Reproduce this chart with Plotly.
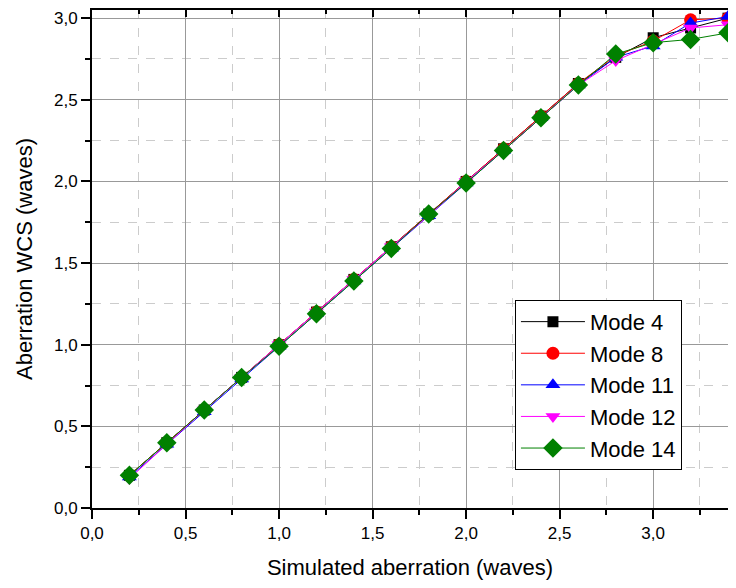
import plotly.graph_objects as go

x_vals = [0.2, 0.4, 0.6, 0.8, 1.0, 1.2, 1.4, 1.6, 1.8, 2.0, 2.2, 2.4, 2.6, 2.8, 3.0, 3.2, 3.4]
mode4 = [0.20, 0.40, 0.60, 0.80, 1.00, 1.20, 1.40, 1.60, 1.80, 2.00, 2.20, 2.40, 2.60, 2.76, 2.88, 2.94, 3.00]
mode8 = [0.20, 0.40, 0.60, 0.80, 1.00, 1.20, 1.40, 1.60, 1.80, 2.00, 2.20, 2.40, 2.60, 2.77, 2.86, 2.99, 3.00]
mode11 = [0.19, 0.39, 0.59, 0.79, 0.99, 1.19, 1.39, 1.59, 1.79, 1.99, 2.19, 2.39, 2.59, 2.76, 2.83, 2.97, 3.01]
mode12 = [0.18, 0.39, 0.60, 0.80, 1.00, 1.20, 1.40, 1.60, 1.79, 2.00, 2.19, 2.39, 2.59, 2.74, 2.84, 2.94, 2.96]
mode14 = [0.20, 0.40, 0.60, 0.80, 0.99, 1.19, 1.39, 1.59, 1.80, 1.99, 2.19, 2.39, 2.59, 2.78, 2.85, 2.87, 2.91]

series = [
    ("Mode 4", mode4, "#000000", "square", 11),
    ("Mode 8", mode8, "#FF0000", "circle", 13),
    ("Mode 11", mode11, "#0000FF", "triangle-up", 13),
    ("Mode 12", mode12, "#FF00FF", "triangle-down", 13),
    ("Mode 14", mode14, "#008000", "diamond", 15),
]

fig = go.Figure()
for name, ys, col, sym, sz in series:
    fig.add_trace(go.Scatter(
        x=x_vals, y=ys, name=name, mode="lines+markers",
        line=dict(color=col, width=1),
        marker=dict(color=col, symbol=sym, size=sz, line=dict(width=0)),
        cliponaxis=False,
    ))

# dummy trace for top axis
fig.add_trace(go.Scatter(x=[0], y=[0], xaxis="x2", showlegend=False,
                         mode="markers", marker=dict(opacity=0), hoverinfo="skip"))

font_family = "Liberation Sans, Arial, sans-serif"
x_range = [0, 3.4]

fig.update_layout(
    width=720, height=572,
    margin=dict(l=84, r=0, t=2, b=72, autoexpand=False),
    paper_bgcolor="white", plot_bgcolor="white",
    separators=",.",
    font=dict(family=font_family, color="black", size=17),
    showlegend=True,
    legend=dict(
        x=0.665, y=0.418, xanchor="left", yanchor="top",
        bgcolor="white", bordercolor="black", borderwidth=1,
        font=dict(size=22, family=font_family),
        itemwidth=64, tracegroupgap=0,
    ),
    xaxis=dict(
        range=x_range, dtick=0.5, tick0=0, tickformat=".1f", automargin=False,
        showline=True, linecolor="black", linewidth=2,
        ticks="outside", ticklen=9, tickwidth=2, tickcolor="black",
        showgrid=True, gridcolor="#999999", gridwidth=1,
        zeroline=False,
        minor=dict(dtick=0.25, showgrid=True, gridcolor="#cccccc", griddash="dash",
                   ticks="outside", ticklen=5, tickwidth=2, tickcolor="black"),
        title=dict(text="Simulated aberration (waves)", font=dict(size=22), standoff=27),
        tickfont=dict(size=17),
    ),
    xaxis2=dict(
        range=x_range, overlaying="x", side="top", dtick=0.5, tick0=0, automargin=False,
        showticklabels=False, showline=True, linecolor="black", linewidth=2,
        ticks="inside", ticklen=7, tickwidth=2, tickcolor="black",
        showgrid=False, zeroline=False,
        minor=dict(dtick=0.25, ticks="inside", ticklen=4, tickwidth=2, tickcolor="black"),
    ),
    yaxis=dict(
        range=[0, 3.05], dtick=0.5, tick0=0, tickformat=".1f", automargin=False,
        showline=True, linecolor="black", linewidth=2,
        ticks="outside", ticklen=9, tickwidth=2, tickcolor="black",
        showgrid=True, gridcolor="#999999", gridwidth=1,
        zeroline=False,
        minor=dict(dtick=0.25, showgrid=True, gridcolor="#cccccc", griddash="dash",
                   ticks="outside", ticklen=5, tickwidth=2, tickcolor="black"),
        title=dict(text="Aberration WCS (waves)", font=dict(size=22)),
        tickfont=dict(size=17),
    ),
)

fig.write_html("out.html")
